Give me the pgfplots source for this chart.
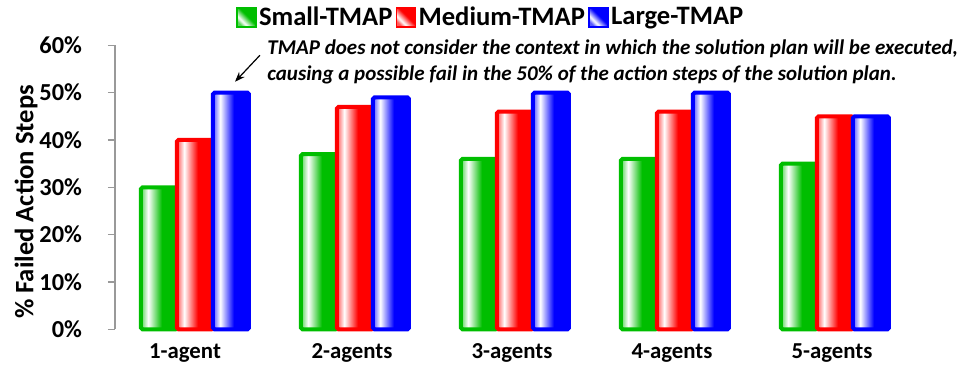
\documentclass[border=0pt]{standalone}
\usepackage{fontspec}
\setmainfont{Carlito}
\usepackage{pgfplots}
\usepackage{pgfplotstable}
\usetikzlibrary{arrows.meta}
\pgfplotsset{compat=1.18}

\definecolor{sgreen}{RGB}{0,190,0}
\definecolor{sred}{RGB}{255,0,0}
\definecolor{sblue}{RGB}{0,0,255}

% glossy bar fills: light edge, white streak, then full colour
\pgfdeclarehorizontalshading{greenbar}{100bp}{color(0bp)=(sgreen!65!white); color(25bp)=(sgreen!65!white); color(35bp)=(white); color(54bp)=(sgreen); color(100bp)=(sgreen)}
\pgfdeclarehorizontalshading{redbar}{100bp}{color(0bp)=(sred!65!white); color(25bp)=(sred!65!white); color(35bp)=(white); color(54bp)=(sred); color(100bp)=(sred)}
\pgfdeclarehorizontalshading{bluebar}{100bp}{color(0bp)=(sblue!65!white); color(25bp)=(sblue!65!white); color(35bp)=(white); color(54bp)=(sblue); color(100bp)=(sblue)}

\pgfplotstableread{
x small medium large
0 30 40 50
1 37 47 49
2 36 46 50
3 36 46 50
4 35 45 45
}\tmapdata

\pgfplotsset{
  tmapbar/.style={
    line width=2pt, rounded corners=0.8pt, shading angle=0,
    legend image code/.code={
      \draw[##1, line width=0.8pt, rounded corners=0pt, shading angle=45]
        (0pt,-4.7pt) rectangle (9.4pt,4.7pt);
    }
  }
}

\begin{document}
\begin{tikzpicture}
\begin{axis}[
  scale only axis, width=400pt, height=142pt,
  xmin=-0.5, xmax=4.5, ymin=0, ymax=60,
  ybar, bar width=18pt,
  axis lines*=left,
  x axis line style={draw=none},
  y axis line style={draw=gray!80, line width=0.6pt},
  xtick={0,1,2,3,4},
  xticklabels={\hspace*{-7pt}1-agent,2-agents,3-agents,4-agents,5-agents},
  xtick style={draw=none},
  ytick={0,10,...,60},
  ytick style={draw=gray!80, line width=0.6pt},
  tick align=outside,
  major tick length=3.5pt,
  /pgf/number format/assume math mode=true,
  yticklabel={\pgfmathprintnumber{\tick}\%},
  yticklabel style={font=\bfseries\fontsize{12.2}{14}\selectfont, xshift=-9.5pt},
  xticklabel style={font=\bfseries\fontsize{11.4}{13}\selectfont, xshift=-1.5pt},
  ylabel={\% Failed Action Steps},
  ylabel style={font=\bfseries\fontsize{13.3}{16}\selectfont, at={(axis description cs:-0.111,0.448)}, anchor=center},
  legend columns=3,
  legend style={draw=none, fill=none, at={(axis description cs:0.47,1.098)}, anchor=center,
    font=\bfseries\fontsize{13.3}{16}\selectfont,
    nodes={inner xsep=1.2pt},
    /tikz/every even column/.append style={column sep=0.5pt}},
  clip=false,
]
% one bar per plot, so that each bar carries its own shading
\pgfplotsinvokeforeach{0,...,4}{
  \addplot[draw=sgreen, shading=greenbar, tmapbar, bar shift=-18pt, forget plot,
    restrict x to domain=#1:#1] table[x=x, y=small] {\tmapdata};
  \addplot[draw=sred, shading=redbar, tmapbar, bar shift=0pt, forget plot,
    restrict x to domain=#1:#1] table[x=x, y=medium] {\tmapdata};
  \addplot[draw=sblue, shading=bluebar, tmapbar, bar shift=18pt, forget plot,
    restrict x to domain=#1:#1] table[x=x, y=large] {\tmapdata};
}
\addlegendimage{draw=sgreen, shading=greenbar, tmapbar}
\addlegendentry{Small-TMAP}
\addlegendimage{draw=sred, shading=redbar, tmapbar}
\addlegendentry{Medium-TMAP}
\addlegendimage{draw=sblue, shading=bluebar, tmapbar}
\addlegendentry{Large-TMAP}

\draw[-{Stealth[length=5pt]}, line width=0.6pt] (axis cs:0.406,57.9) -- (axis cs:0.25,52.3);
\node[anchor=base west, inner sep=0pt, font=\bfseries\itshape\fontsize{10.5}{12}\selectfont] at (axis cs:0.45,57.95)
  {TMAP does not consider the context in which the solution plan will be executed,};
\node[anchor=base west, inner sep=0pt, font=\bfseries\itshape\fontsize{10.5}{12}\selectfont] at (axis cs:0.45,52.65)
  {causing a possible fail in the 50\% of the action steps of the solution plan.};
\end{axis}
\pgfresetboundingbox
\useasboundingbox (-57.5pt,-18.85pt) rectangle (424.5pt,164.65pt);
\end{tikzpicture}
\end{document}
